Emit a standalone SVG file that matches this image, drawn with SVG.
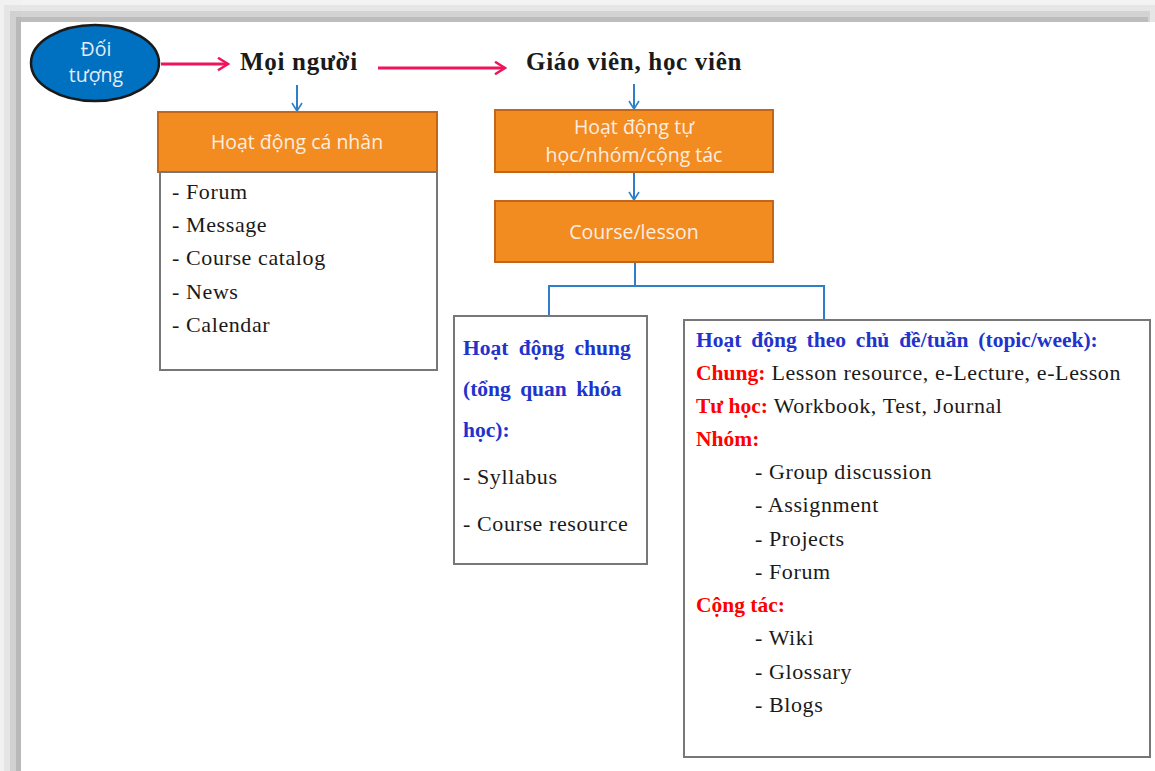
<svg xmlns="http://www.w3.org/2000/svg" width="1155" height="771" viewBox="0 0 1155 771">
  <style>
    .orange { fill: #F28B20; stroke: #C2661A; stroke-width: 2; }
    .list { fill: #ffffff; stroke: #777777; stroke-width: 2; }
    .head { font-family: "Liberation Serif", serif; font-weight: bold; font-size: 25px; letter-spacing: 0.7px; fill: #1a1a1a; }
    .box-label { font-family: "Open Sans", "Noto Sans", sans-serif; font-size: 19.5px; fill: #fbeee0; text-anchor: middle; }
    .item { font-family: "Liberation Serif", serif; font-size: 22px; letter-spacing: 0.6px; fill: #1a1a1a; }
    .blue { font-family: "Liberation Serif", serif; font-weight: bold; font-size: 21.5px; fill: #2233CC; }
    .red { font-family: "Liberation Serif", serif; font-weight: bold; font-size: 21.5px; fill: #FF0000; }
    .pink { stroke: #F0145A; stroke-width: 3; fill: none; }
    .link { stroke: #2E7FC8; stroke-width: 2; fill: none; }
  </style>
  <defs>
    <marker id="pinkHead" viewBox="0 0 12 12" refX="10" refY="6" markerWidth="5" markerHeight="5" orient="auto" markerUnits="strokeWidth">
      <path d="M2,1 L10,6 L2,11" fill="none" stroke="#F0145A" stroke-width="2"/>
    </marker>
    <marker id="blueHead" viewBox="0 0 12 12" refX="10" refY="6" markerWidth="6" markerHeight="6" orient="auto" markerUnits="strokeWidth">
      <path d="M2,1 L10,6 L2,11" fill="none" stroke="#2E7FC8" stroke-width="1.6"/>
    </marker>
  </defs>

  <!-- page background and frame shading -->
  <rect x="0" y="0" width="1155" height="771" fill="#ffffff"/>
  <rect x="0" y="0" width="1155" height="22" fill="#f3f3f3"/>
  <rect x="0" y="5" width="1155" height="17" fill="#e6e6e6"/>
  <rect x="0" y="11" width="1150" height="11" fill="#d3d3d3"/>
  <rect x="0" y="17" width="1148" height="5" fill="#bdbdbd"/>
  <rect x="0" y="0" width="21" height="771" fill="#f1f1f1"/>
  <rect x="4" y="5" width="17" height="766" fill="#e5e5e5"/>
  <rect x="10" y="11" width="11" height="760" fill="#d1d1d1"/>
  <rect x="16" y="17" width="5" height="754" fill="#b9b9b9"/>

  <!-- connectors -->
  <g id="connectors">
    <line class="pink" x1="161" y1="64" x2="228" y2="64" marker-end="url(#pinkHead)"/>
    <line class="pink" x1="378" y1="68" x2="505" y2="68" marker-end="url(#pinkHead)"/>
    <line class="link" x1="297" y1="85" x2="297" y2="111" marker-end="url(#blueHead)"/>
    <line class="link" x1="634" y1="84" x2="634" y2="109" marker-end="url(#blueHead)"/>
    <line class="link" x1="634" y1="172" x2="634" y2="200" marker-end="url(#blueHead)"/>
    <path class="link" d="M635,262 V286 M549,316 V286 H824 V320"/>
  </g>

  <!-- source ellipse -->
  <g id="doi-tuong">
    <ellipse cx="95" cy="63" rx="64" ry="38" fill="#0070C0" stroke="#1a1a1a" stroke-width="2.5"/>
    <text class="box-label" x="96" y="56" style="fill:#e3ecf5">Đối</text>
    <text class="box-label" x="96" y="82" style="fill:#e3ecf5">tượng</text>
  </g>

  <g id="moi-nguoi">
    <text class="head" x="240" y="70">Mọi người</text>
  </g>

  <g id="giao-vien-hoc-vien">
    <text class="head" x="526" y="70">Giáo viên, học viên</text>
  </g>

  <!-- personal activities -->
  <g id="hoat-dong-ca-nhan">
    <rect class="orange" x="158" y="112" width="279" height="60"/>
    <text class="box-label" x="297" y="149">Hoạt động cá nhân</text>
  </g>
  <g id="ca-nhan-list">
    <rect class="list" x="160" y="172" width="277" height="198"/>
    <text class="item" x="172" y="199">- Forum</text>
    <text class="item" x="172" y="232">- Message</text>
    <text class="item" x="172" y="265">- Course catalog</text>
    <text class="item" x="172" y="299">- News</text>
    <text class="item" x="172" y="332">- Calendar</text>
  </g>

  <!-- self-study / group / collaboration -->
  <g id="hoat-dong-tu-hoc">
    <rect class="orange" x="495" y="110" width="278" height="62"/>
    <text class="box-label" x="634" y="134">Hoạt động tự</text>
    <text class="box-label" x="634" y="162">học/nhóm/cộng tác</text>
  </g>

  <g id="course-lesson">
    <rect class="orange" x="495" y="201" width="278" height="61"/>
    <text class="box-label" x="634" y="239">Course/lesson</text>
  </g>

  <!-- course overview -->
  <g id="hoat-dong-chung">
    <rect class="list" x="454" y="316" width="193" height="248"/>
    <text class="blue" x="463" y="355" word-spacing="5">Hoạt động chung</text>
    <text class="blue" x="463" y="396" word-spacing="4">(tổng quan khóa</text>
    <text class="blue" x="463" y="437">học):</text>
    <text class="item" x="463" y="484">- Syllabus</text>
    <text class="item" x="463" y="531">- Course resource</text>
  </g>

  <!-- weekly topic activities -->
  <g id="hoat-dong-theo-chu-de">
    <rect class="list" x="684" y="320" width="466" height="437"/>
    <text class="blue" x="696" y="347" word-spacing="4.5">Hoạt động theo chủ đề/tuần (topic/week):</text>
    <text x="696" y="380"><tspan class="red">Chung:</tspan><tspan class="item"> Lesson resource, e-Lecture, e-Lesson</tspan></text>
    <text x="696" y="413"><tspan class="red">Tư học:</tspan><tspan class="item"> Workbook, Test, Journal</tspan></text>
    <text class="red" x="696" y="446">Nhóm:</text>
    <text class="item" x="755" y="479">- Group discussion</text>
    <text class="item" x="755" y="512">- Assignment</text>
    <text class="item" x="755" y="546">- Projects</text>
    <text class="item" x="755" y="579">- Forum</text>
    <text class="red" x="696" y="612">Cộng tác:</text>
    <text class="item" x="755" y="645">- Wiki</text>
    <text class="item" x="755" y="679">- Glossary</text>
    <text class="item" x="755" y="712">- Blogs</text>
  </g>
</svg>
